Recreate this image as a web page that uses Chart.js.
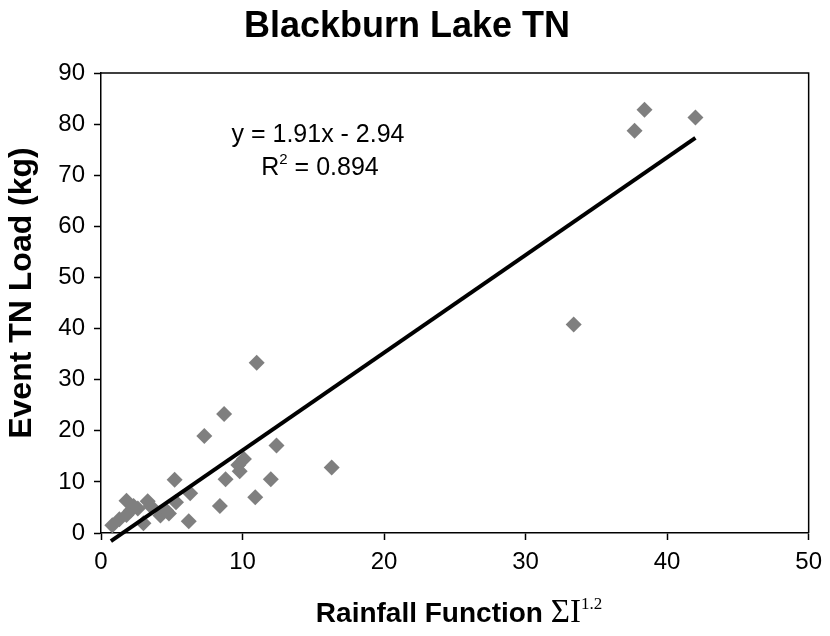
<!DOCTYPE html>
<html>
<head>
<meta charset="utf-8">
<script src="https://cdn.jsdelivr.net/npm/chart.js@4"></script>
<style>
  html, body { margin: 0; padding: 0; background: #fff; }
  #wrap { width: 830px; height: 636px; position: relative; }
</style>
</head>
<body>
<div id="wrap"><canvas id="chart"></canvas></div>
<script>
// --- data ---
const rainfall = [0.8, 1.3, 1.8, 2.1, 1.8, 2.3, 2.6, 3.3, 3.5, 3.0, 4.2, 4.6, 4.8, 5.3, 5.2, 6.3, 6.2, 8.4, 10.9,
                  7.3, 8.7, 11.0, 12.4, 10.1, 9.7, 9.8, 16.3, 8.8, 12.0,
                  33.4, 37.7, 38.4, 42.0];
const tnLoad   = [1.5, 2.7, 3.5, 4.4, 6.3, 5.3, 4.8, 6.2, 5.3, 1.9, 3.4, 4.4, 3.8, 6.0, 10.4, 7.8, 2.3, 5.3, 7.0,
                  19.0, 23.3, 33.3, 17.1, 14.5, 13.3, 12.1, 12.8, 10.5, 10.5,
                  40.8, 78.7, 82.8, 81.3];
// trend line end points (y = 1.91x - 2.94)
const fitX = [0.7, 42.0];
const fitY = [-1.6, 77.3];

const titleText = 'Blackburn Lake TN';
const yTitle = 'Event TN Load (kg)';
const xTitle = 'Rainfall Function ';
const eqLine = 'y = 1.91x - 2.94';
const r2Value = ' = 0.894';

const sans = "Arial, 'Liberation Sans', sans-serif";
const serif = "'Times New Roman', 'Liberation Serif', serif";

const points = rainfall.map((x, i) => ({ x: x, y: tnLoad[i] }));
const fitPoints = fitX.map((x, i) => ({ x: x, y: fitY[i] }));

// draws frame, titles and the equation label
const decorations = {
    id: 'decorations',
    afterDraw(chart) {
        const ctx = chart.ctx;
        const a = chart.chartArea;
        ctx.save();

        // top and right edges of the plot box
        ctx.strokeStyle = '#000';
        ctx.lineWidth = 1.5;
        ctx.beginPath();
        ctx.moveTo(a.left, a.top);
        ctx.lineTo(a.right, a.top);
        ctx.lineTo(a.right, a.bottom);
        ctx.stroke();

        ctx.fillStyle = '#000';
        ctx.textBaseline = 'alphabetic';

        // main title
        ctx.font = 'bold 36px ' + sans;
        ctx.textAlign = 'center';
        ctx.fillText(titleText, 407, 37);

        // y axis title
        ctx.save();
        ctx.translate(22, 293);
        ctx.rotate(-Math.PI / 2);
        ctx.font = 'bold 32px ' + sans;
        ctx.textBaseline = 'middle';
        ctx.fillText(yTitle, 0, 0);
        ctx.restore();

        // x axis title with sigma and superscript
        ctx.textAlign = 'left';
        const f1 = 'bold 28px ' + sans, f2 = '33px ' + serif, f3 = '17px ' + serif;
        ctx.font = f1; const w1 = ctx.measureText(xTitle).width;
        ctx.font = f2; const w2 = ctx.measureText('\u03A3I').width;
        ctx.font = f3; const w3 = ctx.measureText('1.2').width;
        let x = 459 - (w1 + w2 + w3) / 2;
        const base = 622;
        ctx.font = f1; ctx.fillText(xTitle, x, base); x += w1;
        ctx.font = f2; ctx.fillText('\u03A3I', x, base); x += w2;
        ctx.font = f3; ctx.fillText('1.2', x, base - 13);

        // regression equation
        ctx.font = '25px ' + sans;
        ctx.textAlign = 'center';
        ctx.fillText(eqLine, 318, 142);

        ctx.textAlign = 'left';
        ctx.font = '25px ' + sans; const wr = ctx.measureText('R').width;
        ctx.font = '15px ' + sans; const ws = ctx.measureText('2').width;
        ctx.font = '25px ' + sans; const wv = ctx.measureText(r2Value).width;
        let rx = 320 - (wr + ws + wv) / 2;
        ctx.fillText('R', rx, 175); rx += wr;
        ctx.font = '15px ' + sans; ctx.fillText('2', rx, 164); rx += ws;
        ctx.font = '25px ' + sans; ctx.fillText(r2Value, rx, 175);

        ctx.restore();
    }
};

new Chart(document.getElementById('chart'), {
    type: 'scatter',
    data: {
        datasets: [
            {
                type: 'line',
                data: fitPoints,
                borderColor: '#000',
                borderWidth: 4,
                pointRadius: 0,
                fill: false,
                clip: false
            },
            {
                data: points,
                pointStyle: 'rectRot',
                pointRadius: 8,
                pointBackgroundColor: '#7f7f7f',
                pointBorderColor: '#7f7f7f',
                pointBorderWidth: 0
            }
        ]
    },
    options: {
        responsive: true,
        maintainAspectRatio: false,
        animation: false,
        layout: { padding: { top: 73, right: 19, left: 0, bottom: 0 } },
        scales: {
            x: {
                type: 'linear',
                min: 0,
                max: 50,
                ticks: { stepSize: 10, color: '#000', font: { size: 24, family: sans }, padding: 8 },
                grid: { drawOnChartArea: false, drawTicks: true, tickLength: 7, tickColor: '#000', tickWidth: 1.5 },
                border: { color: '#000', width: 1.5 },
                afterFit: (s) => { s.height = 103; }
            },
            y: {
                min: 0,
                max: 90,
                ticks: { stepSize: 10, color: '#000', font: { size: 24, family: sans }, padding: 9 },
                grid: { drawOnChartArea: false, drawTicks: true, tickLength: 7, tickColor: '#000', tickWidth: 1.5 },
                border: { color: '#000', width: 1.5 },
                afterFit: (s) => { s.width = 101; }
            }
        },
        plugins: {
            legend: { display: false },
            tooltip: { enabled: false }
        }
    },
    plugins: [decorations]
});
</script>
</body>
</html>
